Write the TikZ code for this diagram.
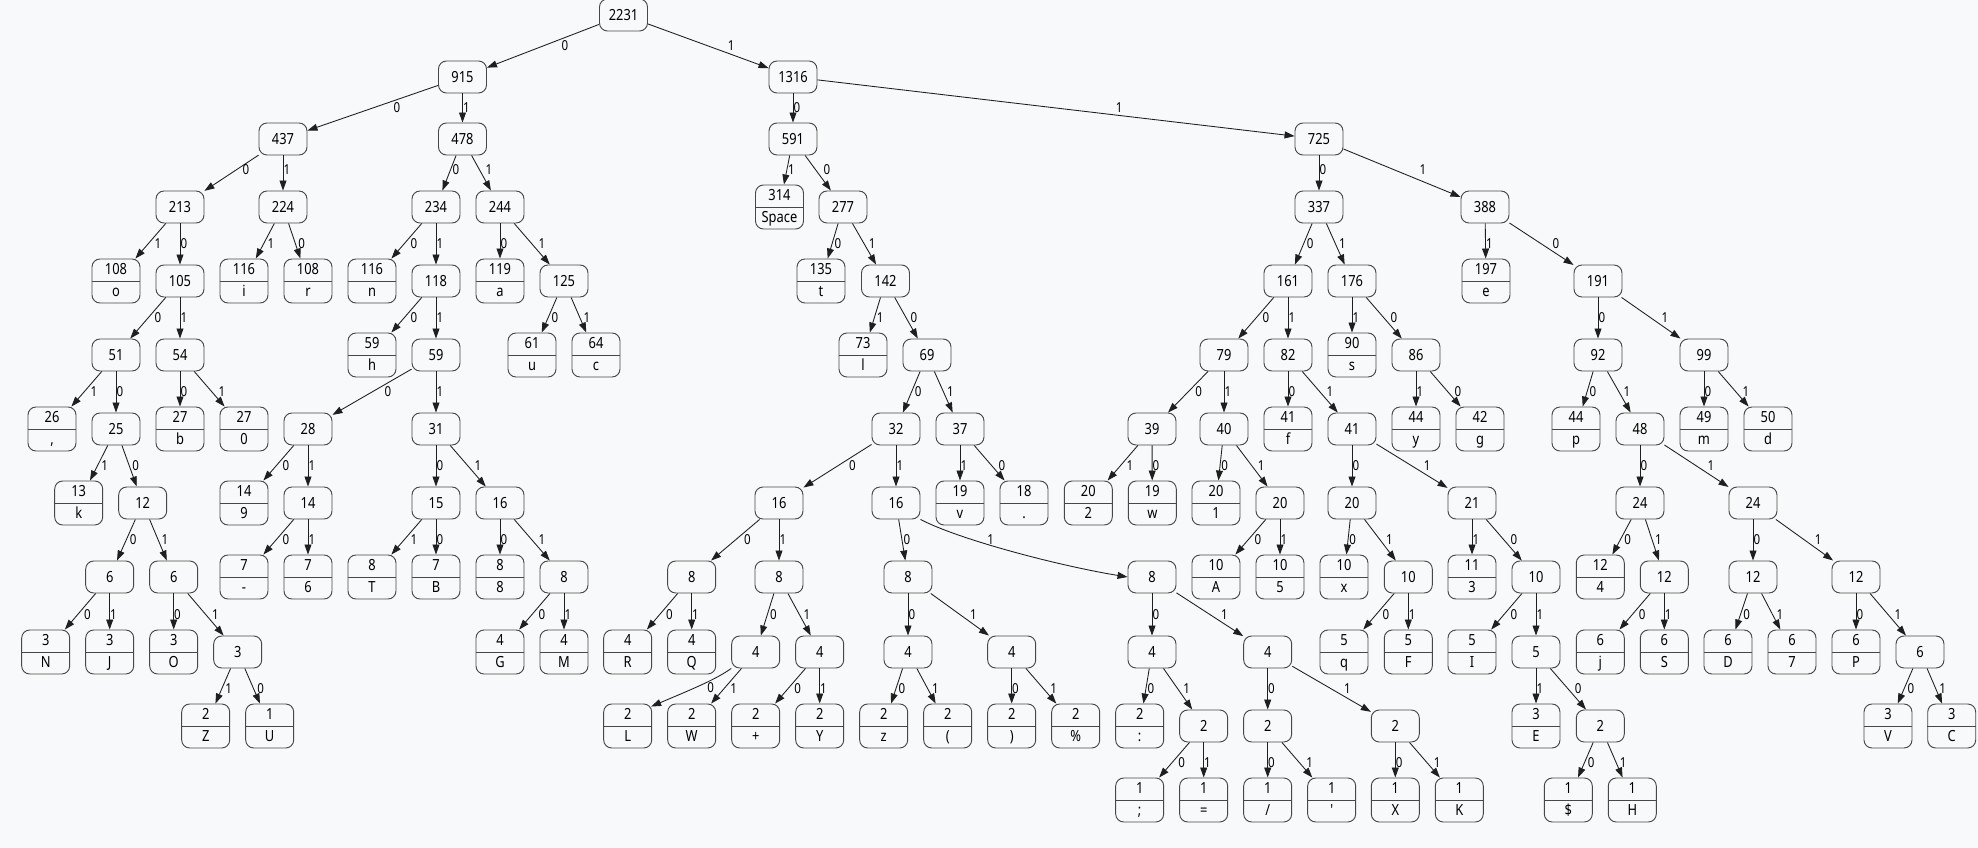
\documentclass[tikz,border=0pt]{standalone}
\usepackage{fontspec}
\newfontfamily\nf{Noto Sans}[FakeStretch=0.84]
\usetikzlibrary{arrows.meta,calc}
\definecolor{bgc}{HTML}{F8F9FA}
\tikzset{
  inode/.style={draw=black!72, fill=bgc, rounded corners=6pt, minimum width=36pt, minimum height=24pt, inner sep=0pt, line width=0.7pt, font=\nf\fontsize{11.5}{13}\selectfont},
  lnode/.style={draw=black!72, fill=bgc, rounded corners=6pt, minimum width=36pt, minimum height=33pt, inner sep=0pt, line width=0.7pt},
  sepl/.style={draw=black!72, line width=0.7pt},
  ntxt/.style={inner sep=0pt, anchor=base, font=\nf\fontsize{11.5}{13}\selectfont},
  elab/.style={inner sep=0pt, anchor=west, font=\nf\fontsize{10.3}{12}\selectfont},
  conn/.style={draw=black!88, line width=0.65pt, -{Triangle[length=7.5pt,width=5.2pt]}}
}
\newcommand\IN[4]{\node[inode] (#1) at (#2,#3) {#4};}
\newcommand\LF[5]{%
  \node[lnode] (#1) at (#2,#3) {};
  \draw[sepl] (#1.west) -- (#1.east);
  \node[ntxt] at (#2,#3-6.5) {#4};
  \node[ntxt] at (#2,#3+15.5) {#5};}
\newcommand\E[4][0]{%
  \draw[conn] (#2) -- (#3);
  \path let \p1=(#2.center), \p2=(#3.center),
    \n1={abs((\x2-\x1)/(\y2-\y1))} in
    node[elab] at ({0.5*\x1+0.5*\x2+\n1*5.25pt+0.2pt},{0.5*\y1+0.5*\y2+#1*0.75pt}) {#4};}
\begin{document}
\begin{tikzpicture}[x=0.75pt,y=-0.75pt]
\fill[bgc] (0,0) rectangle (1978,848);
\useasboundingbox (0,0) rectangle (1978,848);
% rank 0-3
\IN{r}{623.5}{15}{2231}
\IN{a915}{462.5}{77}{915}
\IN{a1316}{793}{77}{1316}
\IN{a437}{283}{139}{437}
\IN{a478}{462.5}{139}{478}
\IN{a591}{793}{139}{591}
\IN{a725}{1319}{139}{725}
\IN{a213}{180}{207}{213}
\IN{a224}{283}{207}{224}
\IN{a234}{436}{207}{234}
\IN{a244}{500}{207}{244}
\LF{Lsp}{779.5}{207}{314}{Space}
\IN{a277}{843}{207}{277}
\IN{a337}{1319}{207}{337}
\IN{a388}{1485}{207}{388}
% rank 4
\LF{Lo}{116}{281}{108}{o}
\IN{a105}{180}{281}{105}
\LF{Li}{244}{281}{116}{i}
\LF{Lr}{308}{281}{108}{r}
\LF{Ln}{372}{281}{116}{n}
\IN{a118}{436}{281}{118}
\LF{La}{500}{281}{119}{a}
\IN{a125}{564}{281}{125}
\LF{Lt}{821}{281}{135}{t}
\IN{a142}{885.5}{281}{142}
\IN{a161}{1288}{281}{161}
\IN{a176}{1352}{281}{176}
\LF{Le}{1486}{281}{197}{e}
\IN{a191}{1598}{281}{191}
% rank 5
\IN{a51}{116}{355}{51}
\IN{a54}{180}{355}{54}
\LF{Lh}{372}{355}{59}{h}
\IN{a59}{436}{355}{59}
\LF{Lu}{532}{355}{61}{u}
\LF{Lc}{596}{355}{64}{c}
\LF{Ll}{863}{355}{73}{l}
\IN{a69}{927}{355}{69}
\IN{a79}{1224}{355}{79}
\IN{a82}{1288}{355}{82}
\LF{Ls}{1352}{355}{90}{s}
\IN{a86}{1416}{355}{86}
\IN{a92}{1598}{355}{92}
\IN{a99}{1704}{355}{99}
% rank 6
\LF{Lcomma}{52}{429}{26}{,}
\IN{a25}{116}{429}{25}
\LF{Lb}{180}{429}{27}{b}
\LF{Lzero}{244}{429}{27}{0}
\IN{a28}{308}{429}{28}
\IN{a31}{436}{429}{31}
\IN{a32}{896}{429}{32}
\IN{a37}{960}{429}{37}
\IN{a39}{1152}{429}{39}
\IN{a40}{1224}{429}{40}
\LF{Lf}{1288}{429}{41}{f}
\IN{a41}{1352}{429}{41}
\LF{Ly}{1416}{429}{44}{y}
\LF{Lg}{1480}{429}{42}{g}
\LF{Lp}{1576}{429}{44}{p}
\IN{a48}{1640}{429}{48}
\LF{Lm}{1704}{429}{49}{m}
\LF{Ld}{1768}{429}{50}{d}
% rank 7
\LF{Lk}{78.7}{503}{13}{k}
\IN{a12}{142.7}{503}{12}
\LF{Lnine}{244}{503}{14}{9}
\IN{a14}{308}{503}{14}
\IN{a15}{436}{503}{15}
\IN{a16}{500}{503}{16}
\IN{b16}{779}{503}{16}
\IN{c16}{896}{503}{16}
\LF{Lv}{960}{503}{19}{v}
\LF{Ldot}{1024}{503}{18}{.}
\LF{Ltwo}{1088.3}{503}{20}{2}
\LF{Lw}{1152.3}{503}{19}{w}
\LF{Lone}{1216}{503}{20}{1}
\IN{a20}{1280}{503}{20}
\IN{b20}{1352}{503}{20}
\IN{a21}{1472}{503}{21}
\IN{a24}{1640}{503}{24}
\IN{b24}{1753}{503}{24}
% rank 8
\IN{a6}{109.7}{577}{6}
\IN{b6}{173.7}{577}{6}
\LF{Ldash}{244}{577}{7}{-}
\LF{Lsix}{308}{577}{7}{6}
\LF{LT}{372}{577}{8}{T}
\LF{LB}{436}{577}{7}{B}
\LF{Leight}{500}{577}{8}{8}
\IN{a8}{564}{577}{8}
\IN{b8}{691.7}{577}{8}
\IN{c8}{779}{577}{8}
\IN{d8}{908}{577}{8}
\IN{e8}{1152}{577}{8}
\LF{LA}{1216}{577}{10}{A}
\LF{Lfive}{1280}{577}{10}{5}
\LF{Lx}{1344}{577}{10}{x}
\IN{a10}{1408.3}{577}{10}
\LF{Lthree}{1472}{577}{11}{3}
\IN{b10}{1536}{577}{10}
\LF{Lfour}{1600.3}{577}{12}{4}
\IN{a12b}{1664.3}{577}{12}
\IN{b12}{1753}{577}{12}
\IN{c12}{1856}{577}{12}
% rank 9
\LF{LN}{45.7}{652}{3}{N}
\LF{LJ}{109.7}{652}{3}{J}
\LF{LO}{173.7}{652}{3}{O}
\IN{a3}{237.7}{652}{3}
\LF{LG}{500}{652}{4}{G}
\LF{LM}{564}{652}{4}{M}
\LF{LR}{627.7}{652}{4}{R}
\LF{LQ}{691.7}{652}{4}{Q}
\IN{a4}{755.7}{652}{4}
\IN{b4}{819.7}{652}{4}
\IN{c4}{908}{652}{4}
\IN{d4}{1011.7}{652}{4}
\IN{e4}{1152}{652}{4}
\IN{f4}{1267.7}{652}{4}
\LF{Lq}{1344}{652}{5}{q}
\LF{LF}{1408.3}{652}{5}{F}
\LF{LI}{1472}{652}{5}{I}
\IN{a5}{1536}{652}{5}
\LF{Lj}{1600.3}{652}{6}{j}
\LF{LS}{1664.3}{652}{6}{S}
\LF{LD}{1728}{652}{6}{D}
\LF{Lseven}{1792}{652}{6}{7}
\LF{LP}{1856}{652}{6}{P}
\IN{a6b}{1920}{652}{6}
% rank 10
\LF{LZ}{205.7}{726}{2}{Z}
\LF{LU}{269.7}{726}{1}{U}
\LF{LL}{627.7}{726}{2}{L}
\LF{LW}{691.7}{726}{2}{W}
\LF{Lplus}{755.7}{726}{2}{+}
\LF{LY}{819.7}{726}{2}{Y}
\LF{Lz}{883.7}{726}{2}{z}
\LF{Lparo}{947.7}{726}{2}{(}
\LF{Lparc}{1011.7}{726}{2}{)}
\LF{Lpct}{1075.7}{726}{2}{\%}
\LF{Lcolon}{1139.7}{726}{2}{:}
\IN{a2}{1203.7}{726}{2}
\IN{b2}{1267.7}{726}{2}
\IN{c2}{1395.3}{726}{2}
\LF{LE}{1536}{726}{3}{E}
\IN{d2}{1600.3}{726}{2}
\LF{LV}{1888}{726}{3}{V}
\LF{LC}{1951.7}{726}{3}{C}
% rank 11
\LF{Lsemi}{1139.7}{800}{1}{;}
\LF{Leq}{1203.7}{800}{1}{=}
\LF{Lslash}{1267.7}{800}{1}{/}
\LF{Lapos}{1331.7}{800}{1}{'}
\LF{LX}{1395.3}{800}{1}{X}
\LF{LK}{1459.3}{800}{1}{K}
\LF{Ldollar}{1568.3}{800}{1}{\$}
\LF{LH}{1632.3}{800}{1}{H}
% edges
\E{r}{a915}{0} \E{r}{a1316}{1}
\E{a915}{a437}{0} \E{a915}{a478}{1}
\E{a1316}{a591}{0} \E{a1316}{a725}{1}
\E[3]{a437}{a213}{0} \E[3]{a437}{a224}{1}
\E[3]{a478}{a234}{0} \E[3]{a478}{a244}{1}
\E[3]{a591}{Lsp}{1} \E[3]{a591}{a277}{0}
\E[3]{a725}{a337}{0} \E[3]{a725}{a388}{1}
\E{a213}{Lo}{1} \E{a213}{a105}{0}
\E{a224}{Li}{1} \E{a224}{Lr}{0}
\E{a234}{Ln}{0} \E{a234}{a118}{1}
\E{a244}{La}{0} \E{a244}{a125}{1}
\E{a277}{Lt}{0} \E{a277}{a142}{1}
\E{a337}{a161}{0} \E{a337}{a176}{1}
\E{a388}{Le}{1} \E{a388}{a191}{0}
\E{a105}{a51}{0} \E{a105}{a54}{1}
\E{a118}{Lh}{0} \E{a118}{a59}{1}
\E{a125}{Lu}{0} \E{a125}{Lc}{1}
\E{a142}{Ll}{1} \E{a142}{a69}{0}
\E{a161}{a79}{0} \E{a161}{a82}{1}
\E{a176}{Ls}{1} \E{a176}{a86}{0}
\E{a191}{a92}{0} \E{a191}{a99}{1}
\E{a51}{Lcomma}{1} \E{a51}{a25}{0}
\E{a54}{Lb}{0} \E{a54}{Lzero}{1}
\E{a59}{a28}{0} \E{a59}{a31}{1}
\E{a69}{a32}{0} \E{a69}{a37}{1}
\E{a79}{a39}{0} \E{a79}{a40}{1}
\E{a82}{Lf}{0} \E{a82}{a41}{1}
\E{a86}{Ly}{1} \E{a86}{Lg}{0}
\E{a92}{Lp}{0} \E{a92}{a48}{1}
\E{a99}{Lm}{0} \E{a99}{Ld}{1}
\E{a25}{Lk}{1} \E{a25}{a12}{0}
\E{a28}{Lnine}{0} \E{a28}{a14}{1}
\E{a31}{a15}{0} \E{a31}{a16}{1}
\E{a32}{b16}{0} \E{a32}{c16}{1}
\E{a37}{Lv}{1} \E{a37}{Ldot}{0}
\E{a39}{Ltwo}{1} \E{a39}{Lw}{0}
\E{a40}{Lone}{0} \E{a40}{a20}{1}
\E{a41}{b20}{0} \E{a41}{a21}{1}
\E{a48}{a24}{0} \E{a48}{b24}{1}
\E{a12}{a6}{0} \E{a12}{b6}{1}
\E{a14}{Ldash}{0} \E{a14}{Lsix}{1}
\E{a15}{LT}{1} \E{a15}{LB}{0}
\E{a16}{Leight}{0} \E{a16}{a8}{1}
\E{b16}{b8}{0} \E{b16}{c8}{1}
\E{c16}{d8}{0}
\draw[conn] (c16.south east) .. controls (960,540) and (1060,566) .. (e8.west);
\node[elab] at (987,539.3) {1};
\E{a20}{LA}{0} \E{a20}{Lfive}{1}
\E{b20}{Lx}{0} \E{b20}{a10}{1}
\E{a21}{Lthree}{1} \E{a21}{b10}{0}
\E{a24}{Lfour}{0} \E{a24}{a12b}{1}
\E{b24}{b12}{0} \E{b24}{c12}{1}
\E{a6}{LN}{0} \E{a6}{LJ}{1}
\E{b6}{LO}{0} \E{b6}{a3}{1}
\E{a8}{LG}{0} \E{a8}{LM}{1}
\E{b8}{LR}{0} \E{b8}{LQ}{1}
\E{c8}{a4}{0} \E{c8}{b4}{1}
\E{d8}{c4}{0} \E{d8}{d4}{1}
\E{e8}{e4}{0} \E{e8}{f4}{1}
\E{a10}{Lq}{0} \E{a10}{LF}{1}
\E{b10}{LI}{0} \E{b10}{a5}{1}
\E{a12b}{Lj}{0} \E{a12b}{LS}{1}
\E{b12}{LD}{0} \E{b12}{Lseven}{1}
\E{c12}{LP}{0} \E{c12}{a6b}{1}
\E{a3}{LZ}{1} \E{a3}{LU}{0}
\draw[conn] (a4.south west) .. controls (715,680) and (690,690) .. ([shift={(-1,3)}]LL.north east);
\node[elab] at (707,688) {0};
\E{a4}{LW}{1}
\E{b4}{Lplus}{0} \E{b4}{LY}{1}
\E{c4}{Lz}{0} \E{c4}{Lparo}{1}
\E{d4}{Lparc}{0} \E{d4}{Lpct}{1}
\E{e4}{Lcolon}{0} \E{e4}{a2}{1}
\E{f4}{b2}{0} \E{f4}{c2}{1}
\E{a5}{LE}{1} \E{a5}{d2}{0}
\E{a6b}{LV}{0} \E{a6b}{LC}{1}
\E{a2}{Lsemi}{0} \E{a2}{Leq}{1}
\E{b2}{Lslash}{0} \E{b2}{Lapos}{1}
\E{c2}{LX}{0} \E{c2}{LK}{1}
\E{d2}{Ldollar}{0} \E{d2}{LH}{1}
\end{tikzpicture}
\end{document}
